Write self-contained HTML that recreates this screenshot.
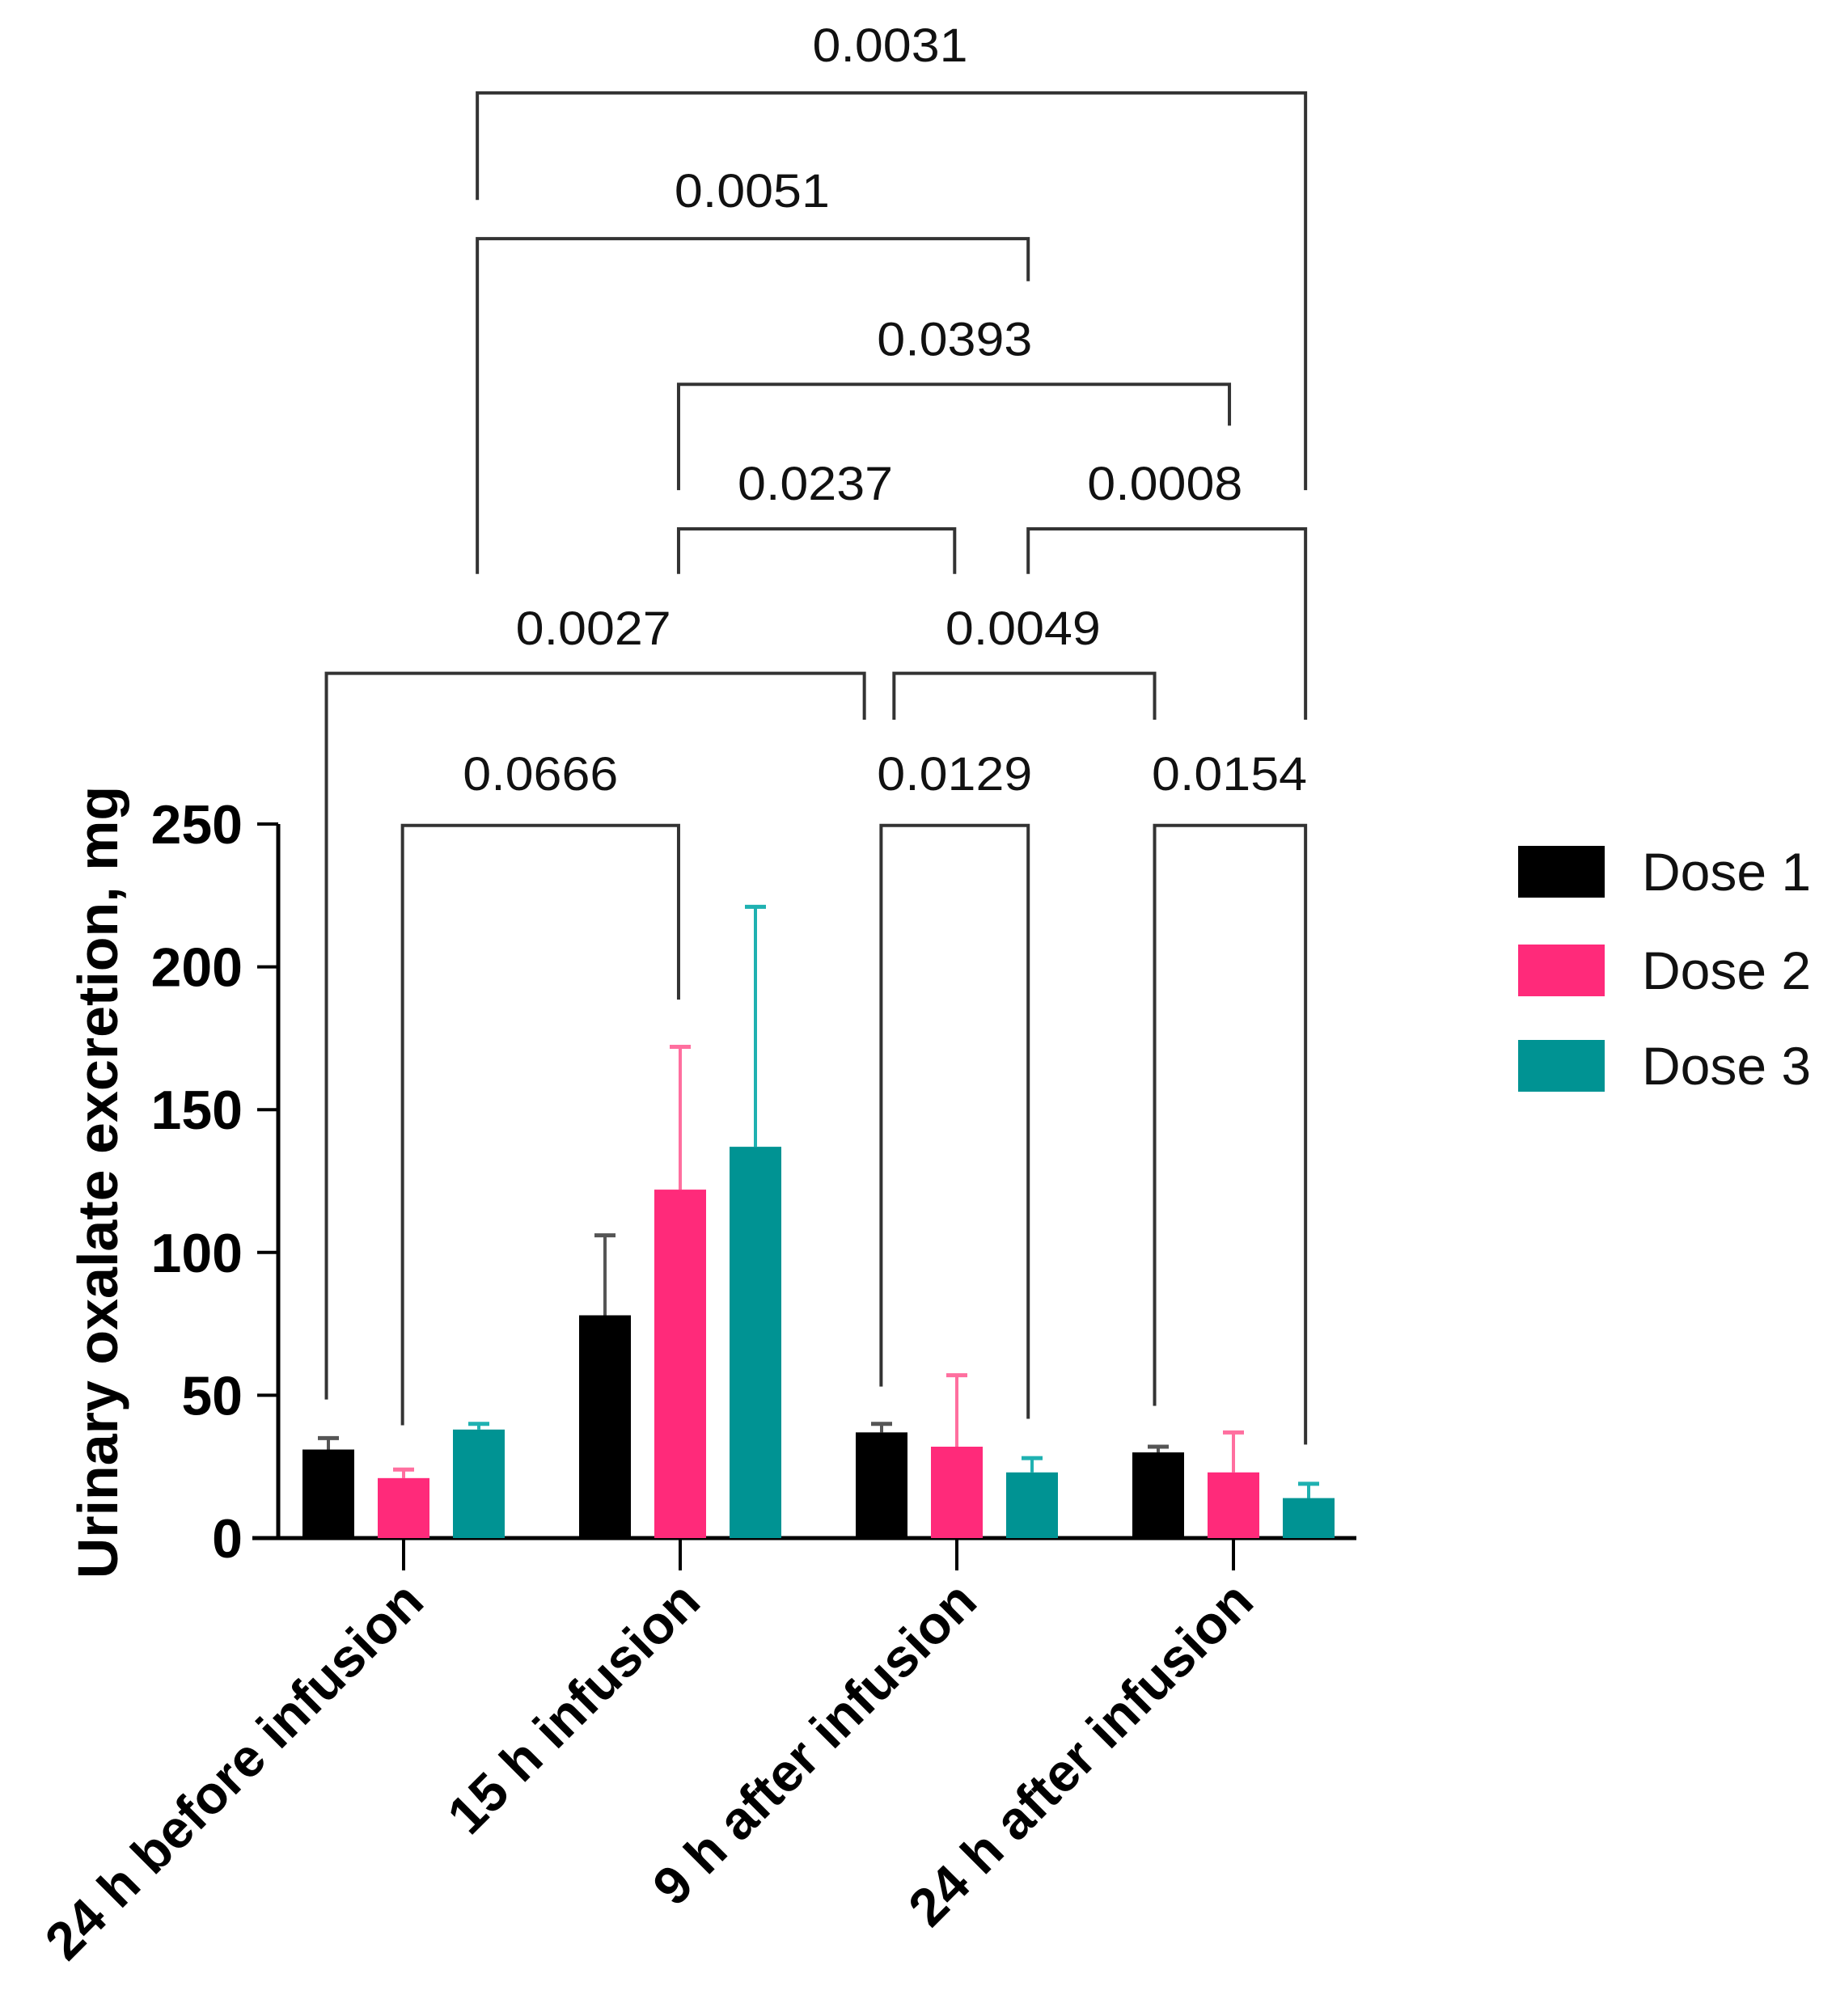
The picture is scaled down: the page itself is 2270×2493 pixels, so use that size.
<!DOCTYPE html>
<html><head><meta charset="utf-8"><style>
html,body{margin:0;padding:0;background:#fff;}
svg{display:block;font-family:"Liberation Sans",Arial,sans-serif;}
</style></head><body>
<svg id="chart" width="2270" height="2493" viewBox="0 0 2270 2493" xmlns="http://www.w3.org/2000/svg"></svg>
<script>
const categories=["24 h before infusion","15 h infusion","9 h after infusion","24 h after infusion"];
const seriesNames=["Dose 1","Dose 2","Dose 3"];
const dose1=[31,78,37,30];
const dose2=[21,122,32,23];
const dose3=[38,137,23,14];
const err1=[35,106,40,32];
const err2=[24,172,57,37];
const err3=[40,221,28,19];
const yTicks=[0,50,100,150,200,250];
const pLabels=["0.0666","0.0129","0.0154","0.0027","0.0049","0.0237","0.0008","0.0393","0.0051","0.0031"];

const S=1.595;
const svg=document.getElementById('chart');
const NS="http://www.w3.org/2000/svg";
function mk(tag,attrs,parent){const e=document.createElementNS(NS,tag);for(const k in attrs)e.setAttribute(k,attrs[k]);(parent||svg).appendChild(e);return e;}
const colors=["#000000","#ff2a7a","#009393"];
const errColors=["#555555","#ff6f9f","#1fb1b1"];
const y0=1902,y250=1019;
function y(v){return y0-(v/250)*(y0-y250);}
const groupX=[499,842,1184,1525];
function gx(i){return groupX[0]+i*(groupX[3]-groupX[0])/3;}
const barW=64,off=93;

// axes
const ax=mk('g',{});


mk('line',{x1:344,y1:y(250),x2:344,y2:y(0)+2,stroke:'#000','stroke-width':5},ax);
mk('line',{x1:312,y1:y(0),x2:1677,y2:y(0),stroke:'#000','stroke-width':5},ax);
yTicks.forEach(t=>{
  mk('line',{x1:318,y1:y(t),x2:344,y2:y(t),stroke:'#000','stroke-width':4},ax);
  const tx=mk('text',{x:300,y:y(t)+24,'text-anchor':'end','font-size':68,'font-weight':'bold'},ax);
  tx.textContent=t;
  
  
});
categories.forEach((c,i)=>{
  mk('line',{x1:gx(i),y1:y(0),x2:gx(i),y2:y(0)+40,stroke:'#000','stroke-width':4},ax);
  const tx=mk('text',{x:0,y:0,'text-anchor':'end','font-size':66,'font-weight':'bold',transform:`translate(${gx(i)+28},${y(0)+82}) rotate(-45)`},ax);
  tx.textContent=c;
  
  
});
const yl=mk('text',{x:0,y:0,'text-anchor':'middle','font-size':70,'font-weight':'bold',transform:'translate(145,1462) rotate(-90)'});
yl.textContent="Urinary oxalate excretion, mg";



// bars
const vals=[dose1,dose2,dose3],errs=[err1,err2,err3];
vals.forEach((arr,s)=>{
  arr.forEach((v,i)=>{
    const cx=gx(i)+(s-1)*off;
    const eb=mk('line',{x1:cx,y1:y(errs[s][i]),x2:cx,y2:y(v),stroke:errColors[s],'stroke-width':4});
    
    
    mk('line',{x1:cx-13,y1:y(errs[s][i]),x2:cx+13,y2:y(errs[s][i]),stroke:errColors[s],'stroke-width':5});
    const r=mk('rect',{x:cx-barW/2,y:y(v),width:barW,height:y(0)-y(v),fill:colors[s]});
    
    
  });
});

// significance brackets (display coords * S): [left x, left bottom, right x, right bottom, top y, label x, label y]
const br=[
 [312,1105,526,775,640,419,600],
 [683,1075,797,1100,640,740,600],
 [895,1090,1012,1120,640,953,600],
 [253,1085,670,558,522,460,487],
 [693,558,895,558,522,793,487],
 [526,445,740,445,410,632,375],
 [797,445,1012,558,410,903,375],
 [526,380,953,330,298,740,263],
 [370,445,797,218,185,583,148],
 [370,155,1012,380,72,690,35]
];
br.forEach((b,k)=>{
  const g=mk('g',{});
  
  
  mk('path',{d:`M${b[0]*S},${b[1]*S} V${b[4]*S} H${b[2]*S} V${b[3]*S}`,fill:'none',stroke:'#333','stroke-width':4},g);
  const t=mk('text',{x:b[5]*S,y:b[6]*S+20,'text-anchor':'middle','font-size':58,fill:'#111',textLength:192,lengthAdjust:'spacingAndGlyphs'},g);
  t.textContent=pLabels[k];
});

// legend
const lg=mk('g',{});


const ly=[1078,1200,1318];
seriesNames.forEach((n,s)=>{
  const e=mk('g',{},lg);
  
  
  mk('rect',{x:1877,y:ly[s]-32,width:107,height:64,fill:colors[s]},e);
  const t=mk('text',{x:2030,y:ly[s]+23,'font-size':66,fill:'#111'},e);
  t.textContent=n;
});
</script>
</body></html>
